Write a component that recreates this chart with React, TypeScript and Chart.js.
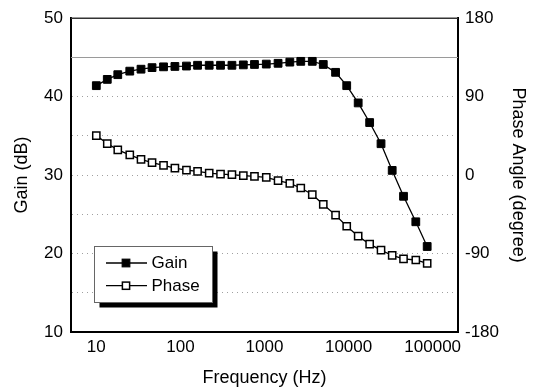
import React, { useEffect, useRef } from 'react';
import { Chart, registerables } from 'chart.js';

Chart.register(...registerables);

// ---- data ----
const FREQUENCY_HZ = [10, 13.5, 18, 25, 34, 46, 63, 86, 118, 160, 220, 300, 410, 560, 760, 1050, 1450, 2000, 2700, 3700, 5000, 7000, 9500, 13000, 17800, 24300, 33000, 45000, 63000, 86000];
const GAIN_DB = [41.4, 42.2, 42.8, 43.25, 43.5, 43.7, 43.8, 43.85, 43.9, 44.0, 44.0, 44.0, 44.0, 44.05, 44.1, 44.15, 44.25, 44.4, 44.5, 44.5, 44.1, 43.1, 41.4, 39.2, 36.7, 34.0, 30.6, 27.3, 24.05, 20.9];
const PHASE_DEG = [45.3, 36.2, 29.0, 23.3, 18.0, 14.2, 11.1, 8.0, 5.7, 4.3, 2.3, 1.2, 0.5, -0.6, -1.4, -2.6, -6.3, -9.4, -14.8, -22.3, -33.7, -45.9, -58.7, -70.1, -79.2, -86.1, -92.2, -96.0, -97.4, -101.3];

const X_TICKS = [10, 100, 1000, 10000, 100000];
const GAIN_DOTTED_GRID = [15, 20, 25, 30, 35, 40];
const REFERENCE_GAIN_DB = 45;
const SERIES_NAMES = ['Gain', 'Phase'];
const X_TITLE = 'Frequency (Hz)';
const Y_TITLE = 'Gain (dB)';
const Y2_TITLE = 'Phase Angle (degree)';

const FONT = "'Liberation Sans', Arial, Helvetica, sans-serif";

const decorPlugin = {
  id: 'decor',
  beforeDatasetsDraw(chart: any) {
    const { ctx, chartArea: a, scales } = chart;
    ctx.save();
    // reference line
    const y = Math.round(scales.y.getPixelForValue(REFERENCE_GAIN_DB)) + 0.5;
    ctx.strokeStyle = '#9a9a9a';
    ctx.lineWidth = 1;
    ctx.beginPath();
    ctx.moveTo(a.left, y);
    ctx.lineTo(a.right, y);
    ctx.stroke();
    // top frame line
    ctx.strokeStyle = '#333';
    ctx.lineWidth = 1.5;
    ctx.beginPath();
    ctx.moveTo(a.left, a.top);
    ctx.lineTo(a.right, a.top);
    ctx.stroke();
    ctx.restore();
  },
  afterDraw(chart: any) {
    const { ctx } = chart;
    const bx = 94.5, by = 246.5, bw = 118, bh = 56;
    ctx.save();
    ctx.fillStyle = '#000';
    ctx.fillRect(bx + 5, by + 5, bw, bh);
    ctx.fillStyle = '#fff';
    ctx.fillRect(bx, by, bw, bh);
    ctx.strokeStyle = '#666';
    ctx.lineWidth = 1;
    ctx.strokeRect(bx, by, bw, bh);
    chart.data.datasets.forEach((ds: any, i: number) => {
      const ry = 263 + i * 22.7;
      ctx.strokeStyle = '#000';
      ctx.lineWidth = 1.3;
      ctx.beginPath();
      ctx.moveTo(106, ry);
      ctx.lineTo(147, ry);
      ctx.stroke();
      const side = ds.pointRadius * Math.SQRT2;
      ctx.fillStyle = ds.pointBackgroundColor;
      ctx.fillRect(126 - side / 2, ry - side / 2, side, side);
      ctx.lineWidth = ds.pointBorderWidth;
      ctx.strokeStyle = ds.pointBorderColor;
      ctx.strokeRect(126 - side / 2, ry - side / 2, side, side);
      ctx.fillStyle = '#000';
      ctx.font = `17px ${FONT}`;
      ctx.textBaseline = 'middle';
      ctx.textAlign = 'left';
      ctx.fillText(ds.label, 151.5, ry + 0.5);
    });
    ctx.restore();
  },
};

export default function App() {
  const canvasRef = useRef<HTMLCanvasElement | null>(null);

  useEffect(() => {
    document.body.style.margin = '0';
    const canvas = canvasRef.current;
    if (!canvas) return;
    Chart.defaults.font.family = FONT;
    Chart.defaults.color = '#000';

    const chart = new Chart(canvas, {
      type: 'line',
      data: {
        datasets: [
          {
            label: SERIES_NAMES[0],
            data: FREQUENCY_HZ.map((f, i) => ({ x: f, y: GAIN_DB[i] })),
            yAxisID: 'y',
            borderColor: '#000',
            borderWidth: 1.3,
            pointStyle: 'rect',
            pointRadius: 5.5,
            pointBackgroundColor: '#000',
            pointBorderColor: '#000',
            pointBorderWidth: 1,
            tension: 0,
          },
          {
            label: SERIES_NAMES[1],
            data: FREQUENCY_HZ.map((f, i) => ({ x: f, y: PHASE_DEG[i] })),
            yAxisID: 'y1',
            borderColor: '#000',
            borderWidth: 1.3,
            pointStyle: 'rect',
            pointRadius: 5.1,
            pointBackgroundColor: '#fff',
            pointBorderColor: '#000',
            pointBorderWidth: 1.5,
            tension: 0,
          },
        ],
      },
      options: {
        animation: false,
        responsive: false,
        devicePixelRatio: 1,
        layout: { padding: { top: 15, left: 0, right: 0, bottom: 0 } },
        plugins: {
          legend: { display: false },
          tooltip: { enabled: false },
        },
        scales: {
          x: {
            type: 'logarithmic',
            min: 5,
            max: 200000,
            afterBuildTicks: (s: any) => {
              s.ticks = X_TICKS.map((v) => ({ value: v }));
            },
            afterFit: (s: any) => {
              s.height = 58;
            },
            grid: { display: false, drawTicks: false },
            border: { display: true, color: '#000', width: 2 },
            ticks: {
              callback: (v: any) => String(v),
              font: { size: 17 },
              color: '#000',
              padding: 5,
              maxRotation: 0,
              autoSkip: false,
            },
            title: {
              display: true,
              text: X_TITLE,
              font: { size: 18 },
              color: '#000',
              padding: { top: 0, bottom: 1 },
            },
          },
          y: {
            position: 'left',
            min: 10,
            max: 50,
            afterFit: (s: any) => {
              s.width = 71;
            },
            ticks: {
              stepSize: 5,
              autoSkip: false,
              callback: (v: any) => (Number(v) % 10 === 0 ? String(v) : ''),
              font: { size: 17 },
              color: '#000',
              padding: 8,
            },
            grid: {
              drawTicks: false,
              lineWidth: 1,
              color: (c: any) =>
                c.tick && GAIN_DOTTED_GRID.includes(c.tick.value) ? '#a0a0a0' : 'rgba(0,0,0,0)',
            },
            border: { display: true, color: '#000', width: 2, dash: [1, 4] },
            title: {
              display: true,
              text: Y_TITLE,
              font: { size: 18 },
              color: '#000',
              padding: { top: 11, bottom: 0 },
            },
          },
          y1: {
            position: 'right',
            min: -180,
            max: 180,
            afterFit: (s: any) => {
              s.width = 76;
            },
            ticks: {
              stepSize: 90,
              autoSkip: false,
              font: { size: 17 },
              color: '#000',
              padding: 7,
            },
            grid: { display: false, drawTicks: false },
            border: { display: true, color: '#000', width: 2 },
            title: {
              display: true,
              text: Y2_TITLE,
              font: { size: 18 },
              color: '#000',
              padding: { top: 5, bottom: 0 },
            },
          },
        },
      } as any,
      plugins: [decorPlugin],
    });

    return () => chart.destroy();
  }, []);

  return (
    <div style={{ position: 'absolute', left: 0, top: 0, width: 534, height: 390, background: '#fff' }}>
      <canvas ref={canvasRef} width={534} height={390} style={{ display: 'block' }} />
    </div>
  );
}
